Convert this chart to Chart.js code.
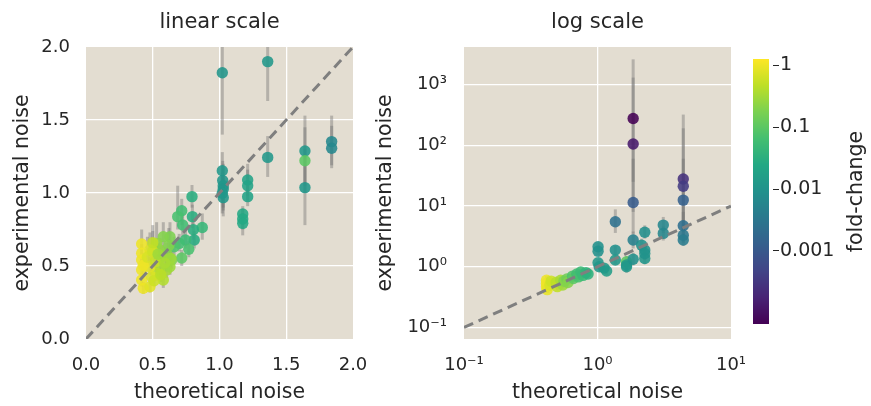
<!DOCTYPE html>
<html>
<head>
<meta charset="utf-8">
<script src="https://cdn.jsdelivr.net/npm/chart.js@4/dist/chart.umd.min.js"></script>
<style>
  html, body { margin: 0; padding: 0; background: #ffffff; }
  #wrap { position: relative; width: 871px; height: 406px; overflow: hidden; }
  #wrap canvas { position: absolute; top: 0; }
</style>
</head>
<body>
<div id="wrap">
  <canvas id="lin" width="370" height="406" style="left:0px"></canvas>
  <canvas id="log" width="375" height="406" style="left:370px"></canvas>
  <canvas id="cbar" width="126" height="406" style="left:745px"></canvas>
</div>
<script>
// ---- linear-scale panel: theoretical vs experimental noise ----
const linTheo = [1.021,1.361,1.021,1.024,1.028,1.028,1.021,1.028,1.211,1.211,
                 1.211,1.174,1.174,1.174,1.361,1.640,1.640,1.640,1.840,1.840,
                 0.794,0.717,0.687,0.797,0.724,0.871,0.804,0.811,0.745,0.698,
                 0.770,0.717,0.660,0.629,0.579,0.529,0.604,0.554,0.642,0.567,
                 0.579,0.604,0.629,0.554,0.529,0.634,
                 0.417,0.417,0.417,0.417,0.417,0.429,0.479,0.492,0.479,0.479,
                 0.429,0.460,0.500,0.520,0.510,
                 0.540,0.590,0.620,0.560,0.500];
const linExp  = [1.824,1.900,1.153,1.085,1.050,1.027,0.998,0.968,1.089,1.050,
                 0.975,0.856,0.822,0.792,1.244,1.288,1.221,1.037,1.352,1.306,
                 0.975,0.879,0.838,0.838,0.781,0.764,0.749,0.678,0.678,0.655,
                 0.615,0.555,0.632,0.700,0.700,0.655,0.587,0.610,0.541,0.564,
                 0.404,0.473,0.495,0.495,0.450,0.553,
                 0.651,0.587,0.541,0.473,0.404,0.347,0.358,0.427,0.495,0.610,
                 0.505,0.560,0.600,0.530,0.400,
                 0.580,0.520,0.640,0.440,0.660];
const linLo   = [1.40,1.63,1.00,0.95,0.90,0.88,0.86,0.84,0.98,0.95,
                 0.91,0.78,0.75,0.71,1.11,1.05,1.00,0.78,1.19,1.17,
                 0.90,0.78,0.75,0.76,0.70,0.68,0.68,0.62,0.62,0.60,
                 0.56,0.50,0.57,0.63,0.62,0.58,0.52,0.54,0.48,0.50,
                 0.35,0.42,0.44,0.44,0.40,0.49,
                 0.60,0.53,0.49,0.42,0.36,0.31,0.32,0.38,0.44,0.54,
                 0.45,0.50,0.53,0.47,0.36,
                 0.52,0.46,0.57,0.39,0.59];
const linHi   = [2.25,2.17,1.28,1.22,1.20,1.17,1.14,1.10,1.20,1.16,
                 1.05,0.91,0.89,0.86,1.39,1.53,1.45,1.30,1.53,1.46,
                 1.055,0.96,1.05,0.92,0.86,0.86,0.82,0.74,0.74,0.72,
                 0.67,0.61,0.70,0.80,0.80,0.80,0.66,0.69,0.60,0.64,
                 0.46,0.53,0.55,0.56,0.51,0.62,
                 0.75,0.65,0.60,0.53,0.45,0.39,0.40,0.48,0.56,0.73,
                 0.56,0.70,0.74,0.60,0.45,
                 0.66,0.59,0.76,0.50,0.78];
const linFold = [0.011,0.012,0.012,0.011,0.012,0.011,0.012,0.012,0.02,0.02,
                 0.02,0.025,0.025,0.025,0.012,0.012,0.1,0.012,0.0065,0.0065,
                 0.03,0.06,0.07,0.03,0.06,0.045,0.03,0.028,0.05,0.06,
                 0.07,0.1,0.08,0.18,0.2,0.25,0.2,0.25,0.2,0.3,
                 0.4,0.35,0.3,0.35,0.45,0.3,
                 1,1,1,1,1,1,0.8,0.75,0.8,0.8,
                 1,0.7,0.6,0.55,0.6,
                 0.3,0.35,0.2,0.45,0.5];

// ---- log-scale panel ----
const logTheo = [0.415,0.415,0.415,0.42,0.44,0.45,0.49,0.50,0.53,0.55,
                 0.56,0.59,0.60,0.65,0.66,0.70,0.72,0.75,0.78,0.82,0.85,
                 1.01,1.01,1.01,1.03,1.17,1.12,1.36,1.36,1.36,
                 1.65,1.65,1.65,1.85,1.85,1.85,1.85,1.85,2.14,2.26,
                 2.26,2.26,2.26,3.11,3.11,4.39,4.39,4.39,4.39,4.39,4.39];
const logExp  = [0.60,0.53,0.47,0.42,0.50,0.58,0.55,0.47,0.60,0.50,
                 0.58,0.63,0.55,0.70,0.64,0.76,0.68,0.82,0.72,0.80,0.76,
                 2.13,1.80,1.16,1.00,0.85,0.95,5.5,1.88,1.29,
                 1.21,1.07,1.00,276,105,11.4,2.75,1.33,2.27,3.7,
                 1.88,1.37,1.65,4.85,3.54,27.8,21.2,12.5,4.72,3.3,2.75];
const logLo   = [0.52,0.46,0.41,0.37,0.44,0.51,0.48,0.41,0.53,0.44,
                 0.51,0.56,0.49,0.62,0.57,0.67,0.60,0.73,0.64,0.71,0.68,
                 1.8,1.55,1.0,0.87,0.74,0.83,3.6,1.6,1.1,
                 0.95,0.85,0.80,25,8,3.5,2.0,1.05,1.8,2.9,
                 1.5,1.1,1.3,3.6,2.7,2.5,4,4,3,2.5,2.2];
const logHi   = [0.70,0.61,0.54,0.48,0.57,0.66,0.63,0.54,0.68,0.57,
                 0.66,0.71,0.62,0.79,0.72,0.86,0.77,0.92,0.81,0.90,0.86,
                 2.5,2.1,1.35,1.15,0.98,1.09,8.8,2.2,1.5,
                 1.5,1.3,1.25,2600,1300,60,3.8,1.7,2.9,4.8,
                 2.4,1.7,2.0,6.6,4.6,320,190,60,8,4.5,3.5];
const logFold = [1,1,1,0.9,0.7,0.6,0.45,0.5,0.35,0.3,
                 0.2,0.15,0.2,0.08,0.1,0.06,0.07,0.05,0.05,0.04,0.035,
                 0.009,0.009,0.012,0.012,0.015,0.013,0.0026,0.009,0.012,
                 0.1,0.012,0.012,0.000066,0.00013,0.0011,0.0045,0.009,0.009,0.008,
                 0.009,0.011,0.01,0.006,0.006,0.00026,0.00036,0.0014,0.0023,0.0034,0.004];

// ---- axes and colour bar ----
const linTicks  = [0, 0.5, 1, 1.5, 2];
const logXTicks = [0.1, 1, 10];
const logYTicks = [0.1, 1, 10, 100, 1000];
const foldTicks = [1, 0.1, 0.01, 0.001];
const FOLD_MIN = 6.6e-5;
const FOLD_MAX = 1.26;
const VIRIDIS = ['#440154','#482475','#414487','#355f8d','#2a788e','#21918c',
                 '#22a884','#44bf70','#7ad151','#bddf26','#fde725'];

Chart.defaults.font.family = "'DejaVu Sans', sans-serif";
Chart.defaults.color = '#262626';
Chart.defaults.animation = false;

const PANEL_BG = '#e3ddd1';
const TEXT = '#262626';
const TICK_FONT = { size: 18 };
const LABEL_FONT = { size: 20.5 };

function hexToRgb(h) {
  const n = parseInt(h.slice(1), 16);
  return [(n >> 16) & 255, (n >> 8) & 255, n & 255];
}
function viridis(t) {
  t = Math.min(1, Math.max(0, t));
  const s = t * (VIRIDIS.length - 1);
  const i = Math.min(Math.floor(s), VIRIDIS.length - 2);
  const f = s - i;
  const a = hexToRgb(VIRIDIS[i]), b = hexToRgb(VIRIDIS[i + 1]);
  return a.map((v, k) => Math.round(v + (b[k] - v) * f));
}
function foldColor(f, alpha) {
  const lo = Math.log10(FOLD_MIN), hi = Math.log10(FOLD_MAX);
  const c = viridis((Math.log10(f) - lo) / (hi - lo));
  return `rgba(${c[0]},${c[1]},${c[2]},${alpha})`;
}
const SUP = {'-': '\u207B', '0': '\u2070', '1': '\u00B9', '2': '\u00B2', '3': '\u00B3'};
function pow10Label(v) {
  const e = Math.round(Math.log10(v));
  return '10' + String(e).split('').map(c => SUP[c]).join('');
}

// beige plot area
const panelBg = {
  id: 'panelBg',
  beforeDraw(chart) {
    const { ctx, chartArea: a } = chart;
    ctx.save();
    ctx.fillStyle = PANEL_BG;
    ctx.fillRect(a.left, a.top, a.width, a.height);
    ctx.restore();
  }
};

// vertical error bars behind the markers
function errorBars(xs, lo, hi) {
  return {
    id: 'errorBars',
    beforeDatasetsDraw(chart) {
      const { ctx, chartArea: a, scales } = chart;
      ctx.save();
      ctx.beginPath();
      ctx.rect(a.left, a.top, a.width, a.height);
      ctx.clip();
      ctx.strokeStyle = 'rgba(115,115,115,0.42)';
      ctx.lineWidth = 3;
      xs.forEach((xv, i) => {
        const px = scales.x.getPixelForValue(xv);
        ctx.beginPath();
        ctx.moveTo(px, scales.y.getPixelForValue(lo[i]));
        ctx.lineTo(px, scales.y.getPixelForValue(hi[i]));
        ctx.stroke();
      });
      ctx.restore();
    }
  };
}

function gridColor(edgeValues) {
  return c => (c.tick && edgeValues.includes(c.tick.value)) ? 'rgba(255,255,255,0)' : '#ffffff';
}

// keep the plot width fixed: no extra room for overhanging end labels
function fixHeight(h) {
  return s => { s.height = h; s.paddingLeft = 0; s.paddingRight = 0; };
}
function fixWidth(w) {
  return s => { s.width = w; s.paddingTop = 0; s.paddingBottom = 0; };
}

function scatterPanel(id, title, theo, exp, lo, hi, fold, xScale, yScale, identity, rightPad) {
  return new Chart(document.getElementById(id), {
    type: 'scatter',
    data: {
      datasets: [
        { type: 'line', data: identity, borderColor: '#7f7f7f', borderWidth: 3,
          borderDash: [10, 6], pointRadius: 0, fill: false, order: 0 },
        { data: theo.map((x, i) => ({ x, y: exp[i] })),
          backgroundColor: fold.map(f => foldColor(f, 0.88)),
          borderWidth: 0, pointRadius: 5.7, pointHoverRadius: 5.7, order: 1 }
      ]
    },
    options: {
      responsive: false,
      animation: false,
      events: [],
      layout: { padding: { left: 0, right: rightPad, top: 0, bottom: 0 } },
      plugins: {
        legend: { display: false },
        tooltip: { enabled: false },
        title: { display: true, text: title, fullSize: false, color: TEXT,
                 font: { size: 21, weight: 'normal', lineHeight: 1.2 },
                 padding: { top: 10, bottom: 11.8 } }
      },
      scales: { x: xScale, y: yScale }
    },
    plugins: [panelBg, errorBars(theo, lo, hi)]
  });
}

// linear panel
scatterPanel('lin', 'linear scale', linTheo, linExp, linLo, linHi, linFold,
  {
    type: 'linear', min: 0, max: 2,
    afterBuildTicks: s => { s.ticks = linTicks.map(v => ({ value: v })); },
    ticks: { callback: v => v.toFixed(1), padding: 16, font: TICK_FONT, color: TEXT },
    grid: { drawTicks: false, lineWidth: 1.3, color: gridColor([0, 2]) },
    border: { display: false },
    title: { display: true, text: 'theoretical noise', color: TEXT, font: LABEL_FONT, padding: { top: 0, bottom: 1 } },
    afterFit: fixHeight(67)
  },
  {
    type: 'linear', min: 0, max: 2,
    afterBuildTicks: s => { s.ticks = linTicks.map(v => ({ value: v })); },
    ticks: { callback: v => v.toFixed(1), padding: 16, font: TICK_FONT, color: TEXT },
    grid: { drawTicks: false, lineWidth: 1.3, color: gridColor([0, 2]) },
    border: { display: false },
    title: { display: true, text: 'experimental noise', color: TEXT, font: LABEL_FONT, padding: { top: 10, bottom: 0 } },
    afterFit: fixWidth(86)
  },
  [{ x: 0, y: 0 }, { x: 2, y: 2 }], 17);

// log panel
scatterPanel('log', 'log scale', logTheo, logExp, logLo, logHi, logFold,
  {
    type: 'logarithmic', min: 0.1, max: 10,
    afterBuildTicks: s => { s.ticks = logXTicks.map(v => ({ value: v })); },
    ticks: { callback: v => pow10Label(v), padding: 16, font: TICK_FONT, color: TEXT },
    grid: { drawTicks: false, lineWidth: 1.3, color: gridColor([0.1, 10]) },
    border: { display: false },
    title: { display: true, text: 'theoretical noise', color: TEXT, font: LABEL_FONT, padding: { top: 0, bottom: 1 } },
    afterFit: fixHeight(67)
  },
  {
    type: 'logarithmic', min: Math.pow(10, -1.19), max: Math.pow(10, 3.618),
    afterBuildTicks: s => { s.ticks = logYTicks.map(v => ({ value: v })); },
    ticks: { callback: v => pow10Label(v), padding: 17, font: TICK_FONT, color: TEXT },
    grid: { drawTicks: false, lineWidth: 1.3, color: '#ffffff' },
    border: { display: false },
    title: { display: true, text: 'experimental noise', color: TEXT, font: LABEL_FONT, padding: { top: 3, bottom: 0 } },
    afterFit: fixWidth(94)
  },
  [{ x: 0.1, y: 0.1 }, { x: 10, y: 10 }], 14);

// colour bar label, reading bottom to top
const cbarLabel = {
  id: 'cbarLabel',
  afterDraw(chart) {
    const { ctx, chartArea: a } = chart;
    ctx.save();
    ctx.translate(112, (a.top + a.bottom) / 2);
    ctx.rotate(-Math.PI / 2);
    ctx.font = "20.5px 'DejaVu Sans', sans-serif";
    ctx.fillStyle = TEXT;
    ctx.textAlign = 'center';
    ctx.textBaseline = 'middle';
    ctx.fillText('fold-change', 0, 0);
    ctx.restore();
  }
};

new Chart(document.getElementById('cbar'), {
  type: 'bar',
  data: {
    labels: ['fold-change'],
    datasets: [{
      data: [[FOLD_MIN, FOLD_MAX]],
      backgroundColor: c => {
        const a = c.chart.chartArea;
        if (!a) return VIRIDIS[5];
        const g = c.chart.ctx.createLinearGradient(0, a.bottom, 0, a.top);
        VIRIDIS.forEach((col, i) => g.addColorStop(i / (VIRIDIS.length - 1), col));
        return g;
      },
      borderWidth: 0, barPercentage: 1, categoryPercentage: 1
    }]
  },
  options: {
    responsive: false,
    animation: false,
    events: [],
    layout: { padding: { left: 8, top: 59, bottom: 82, right: 0 } },
    plugins: { legend: { display: false }, tooltip: { enabled: false } },
    scales: {
      x: { display: false },
      y: {
        type: 'logarithmic', position: 'right', min: FOLD_MIN, max: FOLD_MAX,
        afterBuildTicks: s => { s.ticks = foldTicks.map(v => ({ value: v })); },
        ticks: { callback: v => String(v), font: { size: 19 }, padding: 1, color: TEXT },
        grid: { drawOnChartArea: false, drawTicks: true, tickLength: 10, tickColor: TEXT,
                tickWidth: 1.2, tickBorderDash: [0, 4, 6, 30] },
        border: { display: false },
        afterFit: fixWidth(102)
      }
    }
  },
  plugins: [cbarLabel]
});
</script>
</body>
</html>
